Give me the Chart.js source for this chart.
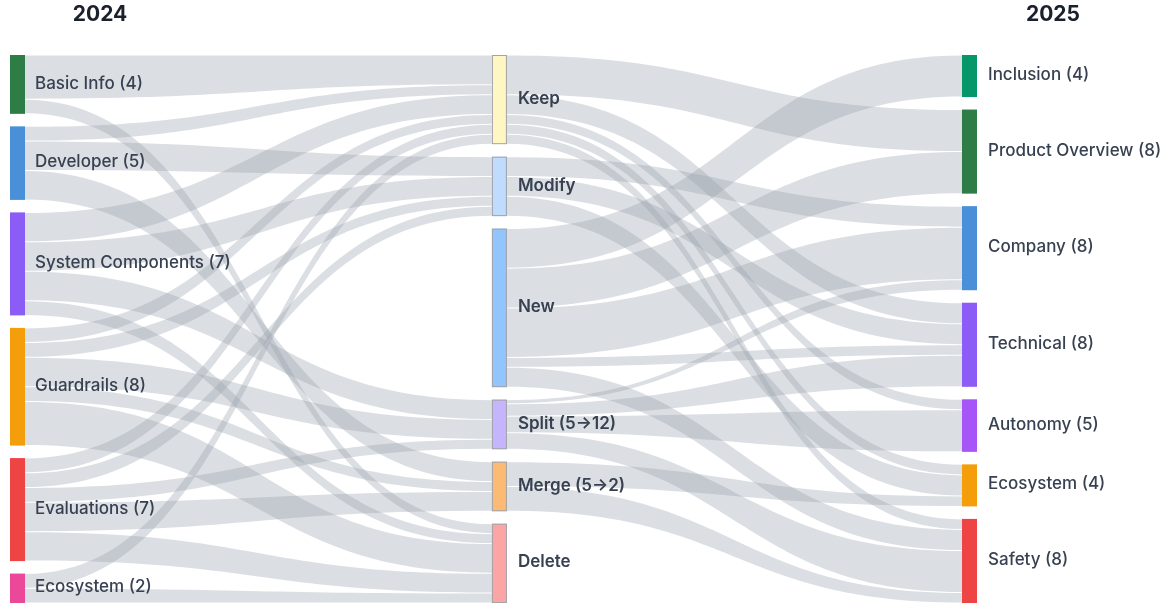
<!DOCTYPE html>
<html>
<head>
<meta charset="utf-8">
<script src="https://cdn.jsdelivr.net/npm/chart.js@4"></script>
<style>
  html, body { margin: 0; padding: 0; background: #fff; }
  #wrap { width: 1164px; height: 604px; position: relative; }
</style>
</head>
<body>
<div id="wrap"><canvas id="sankey"></canvas></div>
<script>
// Columns: 2024 sections -> what happened -> 2025 sections
const years = ['2024', '2025'];
const sections2024 = ['Basic Info', 'Developer', 'System Components', 'Guardrails', 'Evaluations', 'Ecosystem'];
const counts2024 = [4, 5, 7, 8, 7, 2];
const actions = ['Keep', 'Modify', 'New', 'Split (5→12)', 'Merge (5→2)', 'Delete'];
const actionSizes = [9, 6, 16, 5, 5, 8];
const sections2025 = ['Inclusion', 'Product Overview', 'Company', 'Technical', 'Autonomy', 'Ecosystem', 'Safety'];
const counts2025 = [4, 8, 8, 8, 5, 4, 8];

// [2024 section, action, count]
const flowsIn = [
    [0, 0, 3], [0, 5, 1],
    [1, 0, 1], [1, 1, 2], [1, 4, 2],
    [2, 0, 2], [2, 1, 2], [2, 3, 2], [2, 5, 1],
    [3, 0, 1], [3, 1, 1], [3, 3, 2], [3, 4, 1], [3, 5, 3],
    [4, 0, 1], [4, 1, 1], [4, 3, 1], [4, 4, 2], [4, 5, 2],
    [5, 0, 1], [5, 5, 1]
];
// [action, 2025 section, count]
const flowsOut = [
    [0, 1, 4], [0, 3, 2], [0, 4, 1], [0, 5, 1], [0, 6, 1],
    [1, 2, 2], [1, 3, 2], [1, 5, 2],
    [2, 0, 4], [2, 1, 4], [2, 2, 5], [2, 3, 1], [2, 6, 2],
    [3, 2, 1], [3, 3, 3], [3, 4, 4], [3, 6, 4],
    [4, 5, 1], [4, 6, 1]
];

const leftColors = ['#2f7d46', '#4a90d9', '#8b5cf6', '#f59e0b', '#ef4444', '#ec4899'];
const midColors = ['#fef7c3', '#bfdbfe', '#93c5fd', '#c4b5fd', '#fdba74', '#fca5a5'];
const rightColors = ['#059669', '#2f7d46', '#4a90d9', '#8b5cf6', '#a855f7', '#f59e0b', '#ef4444'];

const NODE_W = 15;
const GAP = 0.0228; // share of column height between nodes
const colPos = [0, 1.0124, 2]; // middle column sits a touch right of centre

// stack nodes of one column on the 0..1 y scale
function layoutColumn(sizes) {
    const total = sizes.reduce((a, b) => a + b, 0);
    const unit = (1 - GAP * (sizes.length - 1)) / total;
    let y = 0;
    return sizes.map(s => {
        const node = { y0: y, y1: y + s * unit };
        y = node.y1 + GAP;
        return node;
    });
}

function sideOffsets(nodes, links, key, other) {
    // sort each node's links by the node on the other side
    nodes.forEach((n, i) => {
        const mine = links.filter(l => l[key] === i).sort((a, b) => a[other] - b[other]);
        const sum = mine.reduce((a, l) => a + l[2], 0);
        let y = n.y0;
        mine.forEach(l => {
            const h = (n.y1 - n.y0) * l[2] / sum;
            l[key === 0 ? 'sy' : 'ty'] = [y, y + h];
            y += h;
        });
    });
}

const sankeyPlugin = {
    id: 'sankey',
    beforeDatasetsDraw(chart) {
        const ctx = chart.ctx;
        const xs = chart.scales.x, ys = chart.scales.y;
        const cols = [layoutColumn(counts2024), layoutColumn(actionSizes), layoutColumn(counts2025)];
        const nodeX = c => xs.getPixelForValue(colPos[c]) - colPos[c] * NODE_W / 2;

        const linksA = flowsIn.map(f => f.slice());
        const linksB = flowsOut.map(f => f.slice());
        sideOffsets(cols[0], linksA, 0, 1);
        sideOffsets(cols[1], linksA, 1, 0);
        sideOffsets(cols[1], linksB, 0, 1);
        sideOffsets(cols[2], linksB, 1, 0);

        // links
        ctx.save();
        ctx.fillStyle = 'rgba(156, 163, 175, 0.36)';
        [[linksA, 0], [linksB, 1]].forEach(([links, c]) => {
            const x0 = nodeX(c) + NODE_W, x1 = nodeX(c + 1);
            const xm = (x0 + x1) / 2;
            links.forEach(l => {
                const s0 = ys.getPixelForValue(l.sy[0]) + 0.5, s1 = ys.getPixelForValue(l.sy[1]) - 0.5;
                const t0 = ys.getPixelForValue(l.ty[0]) + 0.5, t1 = ys.getPixelForValue(l.ty[1]) - 0.5;
                ctx.beginPath();
                ctx.moveTo(x0, s0);
                ctx.bezierCurveTo(xm, s0, xm, t0, x1, t0);
                ctx.lineTo(x1, t1);
                ctx.bezierCurveTo(xm, t1, xm, s1, x0, s1);
                ctx.closePath();
                ctx.fill();
            });
        });
        ctx.restore();

        // nodes and labels
        const labels = [
            sections2024.map((s, i) => s + ' (' + counts2024[i] + ')'),
            actions,
            sections2025.map((s, i) => s + ' (' + counts2025[i] + ')')
        ];
        const colors = [leftColors, midColors, rightColors];
        ctx.save();
        ctx.textBaseline = 'middle';
        cols.forEach((nodes, c) => {
            const x = nodeX(c);
            nodes.forEach((n, i) => {
                const top = ys.getPixelForValue(n.y0), bot = ys.getPixelForValue(n.y1);
                ctx.fillStyle = colors[c][i];
                ctx.fillRect(x, top, NODE_W, bot - top);
                if (c === 1) {
                    ctx.strokeStyle = '#a3a3a8';
                    ctx.lineWidth = 1;
                    ctx.strokeRect(x + 0.5, top + 0.5, NODE_W - 1, bot - top - 1);
                }
                ctx.fillStyle = '#374151';
                ctx.font = (c === 1 ? '600 ' : '500 ') + '17px Inter, "Noto Sans", sans-serif';
                ctx.fillText(labels[c][i], x + NODE_W + (c === 0 ? 10 : 11), (top + bot) / 2 - 1);
            });
        });

        // year headings
        ctx.fillStyle = '#1a202c';
        ctx.font = '700 21px Inter, "Noto Sans", sans-serif';
        ctx.textAlign = 'center';
        ctx.fillText(years[0], nodeX(0) + 90, 15);
        ctx.fillText(years[1], nodeX(2) + 91, 15);
        ctx.restore();
    }
};

new Chart(document.getElementById('sankey'), {
    type: 'scatter',
    data: { datasets: [{ data: [] }] },
    options: {
        responsive: true,
        maintainAspectRatio: false,
        animation: false,
        layout: { padding: { top: 55, bottom: 1, left: 10, right: 187 } },
        plugins: { legend: { display: false }, tooltip: { enabled: false } },
        scales: {
            x: { type: 'linear', min: 0, max: 2, display: false },
            y: { type: 'linear', min: 0, max: 1, reverse: true, display: false }
        }
    },
    plugins: [sankeyPlugin]
});
</script>
</body>
</html>
